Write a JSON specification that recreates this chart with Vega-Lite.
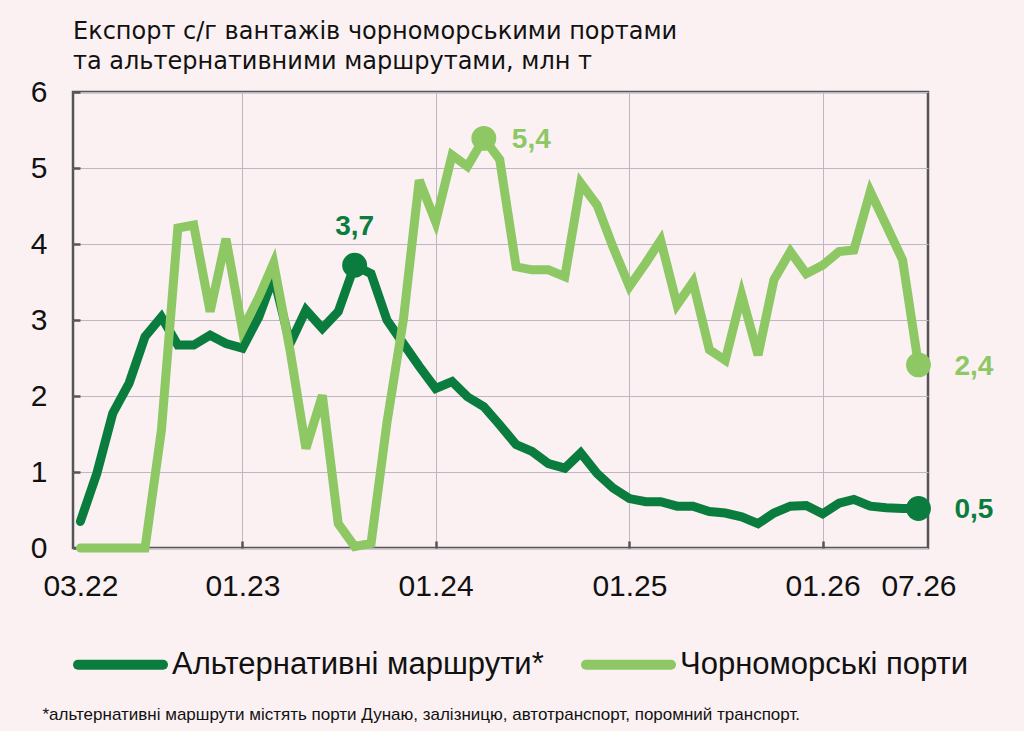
{
  "$schema": "https://vega.github.io/schema/vega-lite/v6.json",
  "width": 855,
  "height": 456,
  "autosize": {"type": "none"},
  "padding": {"left": 73, "top": 92, "right": 96, "bottom": 183},
  "background": "#fbf1f3",
  "title": {
    "text": ["Експорт с/г вантажів чорноморськими портами", "та альтернативними маршрутами, млн т"],
    "anchor": "start",
    "frame": "group",
    "font": "DejaVu Sans",
    "fontSize": 24,
    "fontWeight": "normal",
    "color": "#111",
    "lineHeight": 30,
    "offset": 3
  },
  "data": {
    "values": [
      {"month": "2022-03-01", "series": "alt", "value": 0.35},
      {"month": "2022-04-01", "series": "alt", "value": 0.98},
      {"month": "2022-05-01", "series": "alt", "value": 1.77},
      {"month": "2022-06-01", "series": "alt", "value": 2.17},
      {"month": "2022-07-01", "series": "alt", "value": 2.78},
      {"month": "2022-08-01", "series": "alt", "value": 3.04},
      {"month": "2022-09-01", "series": "alt", "value": 2.67},
      {"month": "2022-10-01", "series": "alt", "value": 2.67},
      {"month": "2022-11-01", "series": "alt", "value": 2.8},
      {"month": "2022-12-01", "series": "alt", "value": 2.69},
      {"month": "2023-01-01", "series": "alt", "value": 2.63},
      {"month": "2023-02-01", "series": "alt", "value": 3.04},
      {"month": "2023-03-01", "series": "alt", "value": 3.57},
      {"month": "2023-04-01", "series": "alt", "value": 2.69},
      {"month": "2023-05-01", "series": "alt", "value": 3.13},
      {"month": "2023-06-01", "series": "alt", "value": 2.89},
      {"month": "2023-07-01", "series": "alt", "value": 3.11},
      {"month": "2023-08-01", "series": "alt", "value": 3.72},
      {"month": "2023-09-01", "series": "alt", "value": 3.61},
      {"month": "2023-10-01", "series": "alt", "value": 3.0},
      {"month": "2023-11-01", "series": "alt", "value": 2.69},
      {"month": "2023-12-01", "series": "alt", "value": 2.39},
      {"month": "2024-01-01", "series": "alt", "value": 2.1},
      {"month": "2024-02-01", "series": "alt", "value": 2.19},
      {"month": "2024-03-01", "series": "alt", "value": 1.99},
      {"month": "2024-04-01", "series": "alt", "value": 1.86},
      {"month": "2024-05-01", "series": "alt", "value": 1.62},
      {"month": "2024-06-01", "series": "alt", "value": 1.36},
      {"month": "2024-07-01", "series": "alt", "value": 1.27},
      {"month": "2024-08-01", "series": "alt", "value": 1.11},
      {"month": "2024-09-01", "series": "alt", "value": 1.05},
      {"month": "2024-10-01", "series": "alt", "value": 1.25},
      {"month": "2024-11-01", "series": "alt", "value": 0.98},
      {"month": "2024-12-01", "series": "alt", "value": 0.79},
      {"month": "2025-01-01", "series": "alt", "value": 0.65},
      {"month": "2025-02-01", "series": "alt", "value": 0.61},
      {"month": "2025-03-01", "series": "alt", "value": 0.61},
      {"month": "2025-04-01", "series": "alt", "value": 0.55},
      {"month": "2025-05-01", "series": "alt", "value": 0.55},
      {"month": "2025-06-01", "series": "alt", "value": 0.48},
      {"month": "2025-07-01", "series": "alt", "value": 0.46},
      {"month": "2025-08-01", "series": "alt", "value": 0.41},
      {"month": "2025-09-01", "series": "alt", "value": 0.32},
      {"month": "2025-10-01", "series": "alt", "value": 0.46},
      {"month": "2025-11-01", "series": "alt", "value": 0.55},
      {"month": "2025-12-01", "series": "alt", "value": 0.56},
      {"month": "2026-01-01", "series": "alt", "value": 0.45},
      {"month": "2026-02-01", "series": "alt", "value": 0.59},
      {"month": "2026-03-01", "series": "alt", "value": 0.64},
      {"month": "2026-04-01", "series": "alt", "value": 0.55},
      {"month": "2026-05-01", "series": "alt", "value": 0.53},
      {"month": "2026-06-01", "series": "alt", "value": 0.52},
      {"month": "2026-07-01", "series": "alt", "value": 0.52},
      {"month": "2022-03-01", "series": "sea", "value": 0},
      {"month": "2022-04-01", "series": "sea", "value": 0},
      {"month": "2022-05-01", "series": "sea", "value": 0},
      {"month": "2022-06-01", "series": "sea", "value": 0},
      {"month": "2022-07-01", "series": "sea", "value": 0},
      {"month": "2022-08-01", "series": "sea", "value": 1.55},
      {"month": "2022-09-01", "series": "sea", "value": 4.21},
      {"month": "2022-10-01", "series": "sea", "value": 4.25},
      {"month": "2022-11-01", "series": "sea", "value": 3.11},
      {"month": "2022-12-01", "series": "sea", "value": 4.07},
      {"month": "2023-01-01", "series": "sea", "value": 2.87},
      {"month": "2023-02-01", "series": "sea", "value": 3.3},
      {"month": "2023-03-01", "series": "sea", "value": 3.75},
      {"month": "2023-04-01", "series": "sea", "value": 2.6},
      {"month": "2023-05-01", "series": "sea", "value": 1.31},
      {"month": "2023-06-01", "series": "sea", "value": 2.01},
      {"month": "2023-07-01", "series": "sea", "value": 0.32},
      {"month": "2023-08-01", "series": "sea", "value": 0.02},
      {"month": "2023-09-01", "series": "sea", "value": 0.06},
      {"month": "2023-10-01", "series": "sea", "value": 1.65},
      {"month": "2023-11-01", "series": "sea", "value": 3.0},
      {"month": "2023-12-01", "series": "sea", "value": 4.84},
      {"month": "2024-01-01", "series": "sea", "value": 4.29},
      {"month": "2024-02-01", "series": "sea", "value": 5.17},
      {"month": "2024-03-01", "series": "sea", "value": 5.02},
      {"month": "2024-04-01", "series": "sea", "value": 5.39},
      {"month": "2024-05-01", "series": "sea", "value": 5.11},
      {"month": "2024-06-01", "series": "sea", "value": 3.7},
      {"month": "2024-07-01", "series": "sea", "value": 3.66},
      {"month": "2024-08-01", "series": "sea", "value": 3.66},
      {"month": "2024-09-01", "series": "sea", "value": 3.57},
      {"month": "2024-10-01", "series": "sea", "value": 4.8},
      {"month": "2024-11-01", "series": "sea", "value": 4.51},
      {"month": "2024-12-01", "series": "sea", "value": 3.96},
      {"month": "2025-01-01", "series": "sea", "value": 3.44},
      {"month": "2025-02-01", "series": "sea", "value": 3.75},
      {"month": "2025-03-01", "series": "sea", "value": 4.05},
      {"month": "2025-04-01", "series": "sea", "value": 3.2},
      {"month": "2025-05-01", "series": "sea", "value": 3.5},
      {"month": "2025-06-01", "series": "sea", "value": 2.61},
      {"month": "2025-07-01", "series": "sea", "value": 2.47},
      {"month": "2025-08-01", "series": "sea", "value": 3.33},
      {"month": "2025-09-01", "series": "sea", "value": 2.54},
      {"month": "2025-10-01", "series": "sea", "value": 3.53},
      {"month": "2025-11-01", "series": "sea", "value": 3.9},
      {"month": "2025-12-01", "series": "sea", "value": 3.61},
      {"month": "2026-01-01", "series": "sea", "value": 3.72},
      {"month": "2026-02-01", "series": "sea", "value": 3.9},
      {"month": "2026-03-01", "series": "sea", "value": 3.92},
      {"month": "2026-04-01", "series": "sea", "value": 4.69},
      {"month": "2026-05-01", "series": "sea", "value": 4.25},
      {"month": "2026-06-01", "series": "sea", "value": 3.79},
      {"month": "2026-07-01", "series": "sea", "value": 2.41}
    ]
  },
  "encoding": {
    "x": {
      "field": "month",
      "type": "temporal",
      "scale": {
        "type": "utc",
        "domain": [
          {"year": 2022, "month": 2, "date": 15, "utc": true},
          {"year": 2026, "month": 7, "date": 19, "utc": true}
        ]
      },
      "axis": {
        "values": [
          {"year": 2022, "month": 3, "date": 1, "utc": true},
          {"year": 2023, "month": 1, "date": 1, "utc": true},
          {"year": 2024, "month": 1, "date": 1, "utc": true},
          {"year": 2025, "month": 1, "date": 1, "utc": true},
          {"year": 2026, "month": 1, "date": 1, "utc": true},
          {"year": 2026, "month": 7, "date": 1, "utc": true}
        ],
        "format": "%m.%y",
        "labelPadding": 30,
        "grid": true,
        "gridOpacity": {"condition": {"test": "utcmonth(datum.value) == 0", "value": 1}, "value": 0},
        "tickOpacity": {"condition": {"test": "utcmonth(datum.value) == 0", "value": 1}, "value": 0},
        "title": "*альтернативні маршрути містять порти Дунаю, залізницю, автотранспорт, поромний транспорт.",
        "titleFont": "Liberation Sans",
        "titleFontSize": 17,
        "titleFontWeight": "normal",
        "titleColor": "#111",
        "titleAnchor": "start",
        "titleAlign": "left",
        "titleBaseline": "alphabetic",
        "titleX": -31,
        "titleY": 171
      }
    },
    "y": {
      "field": "value",
      "type": "quantitative",
      "scale": {"domain": [0, 6], "nice": false},
      "axis": {"values": [0, 1, 2, 3, 4, 5, 6], "labelPadding": 33, "grid": true, "title": null}
    },
    "color": {
      "field": "series",
      "type": "nominal",
      "scale": {"domain": ["alt", "sea"], "range": ["#0a7d3e", "#8dc864"]},
      "legend": {
        "orient": "none",
        "legendX": 0,
        "legendY": 525,
        "direction": "horizontal",
        "title": null,
        "symbolType": "stroke",
        "symbolSize": 7225,
        "symbolStrokeWidth": 10,
        "labelFont": "Liberation Sans",
        "labelFontSize": 31,
        "labelColor": "#111",
        "labelLimit": 0,
        "labelOffset": 4,
        "columnPadding": 22,
        "labelExpr": "datum.value == 'alt' ? 'Альтернативні маршрути*' : 'Чорноморські порти'",
        "encode": {"symbols": {"update": {"strokeCap": {"value": "round"}}}}
      }
    }
  },
  "layer": [
    {
      "mark": {"type": "line", "strokeWidth": 9, "strokeCap": "round"}
    },
    {
      "transform": [
        {"filter": "(datum.series == 'alt' && utcFormat(toDate(datum.month), '%Y-%m') == '2023-08') || (datum.series == 'sea' && utcFormat(toDate(datum.month), '%Y-%m') == '2024-04') || utcFormat(toDate(datum.month), '%Y-%m') == '2026-07'"}
      ],
      "mark": {"type": "point", "filled": true, "opacity": 1, "size": 620}
    },
    {
      "transform": [
        {"filter": "datum.series == 'alt' && utcFormat(toDate(datum.month), '%Y-%m') == '2023-08'"}
      ],
      "mark": {"type": "text", "font": "Liberation Sans", "fontSize": 28, "fontWeight": "bold", "align": "center", "baseline": "middle", "dy": -38},
      "encoding": {"text": {"field": "value", "type": "quantitative", "format": ".1f"}}
    },
    {
      "transform": [
        {"filter": "datum.series == 'sea' && utcFormat(toDate(datum.month), '%Y-%m') == '2024-04'"}
      ],
      "mark": {"type": "text", "font": "Liberation Sans", "fontSize": 28, "fontWeight": "bold", "align": "left", "baseline": "middle", "dx": 28, "dy": 2},
      "encoding": {"text": {"field": "value", "type": "quantitative", "format": ".1f"}}
    },
    {
      "transform": [
        {"filter": "utcFormat(toDate(datum.month), '%Y-%m') == '2026-07'"}
      ],
      "mark": {"type": "text", "font": "Liberation Sans", "fontSize": 28, "fontWeight": "bold", "align": "left", "baseline": "middle", "dx": 36, "dy": 2},
      "encoding": {"text": {"field": "value", "type": "quantitative", "format": ".1f"}}
    }
  ],
  "config": {
    "locale": {"number": {"decimal": ",", "thousands": " ", "grouping": [3], "currency": ["", ""]}},
    "view": {"stroke": "#555", "strokeWidth": 2.5, "fill": "#fbf1f3"},
    "axis": {
      "domain": false,
      "labelFont": "Liberation Sans",
      "labelFontSize": 30,
      "labelColor": "#111",
      "tickSize": -7,
      "tickWidth": 2.5,
      "tickColor": "#555",
      "gridColor": "#bdb7c2",
      "gridWidth": 1
    }
  }
}
